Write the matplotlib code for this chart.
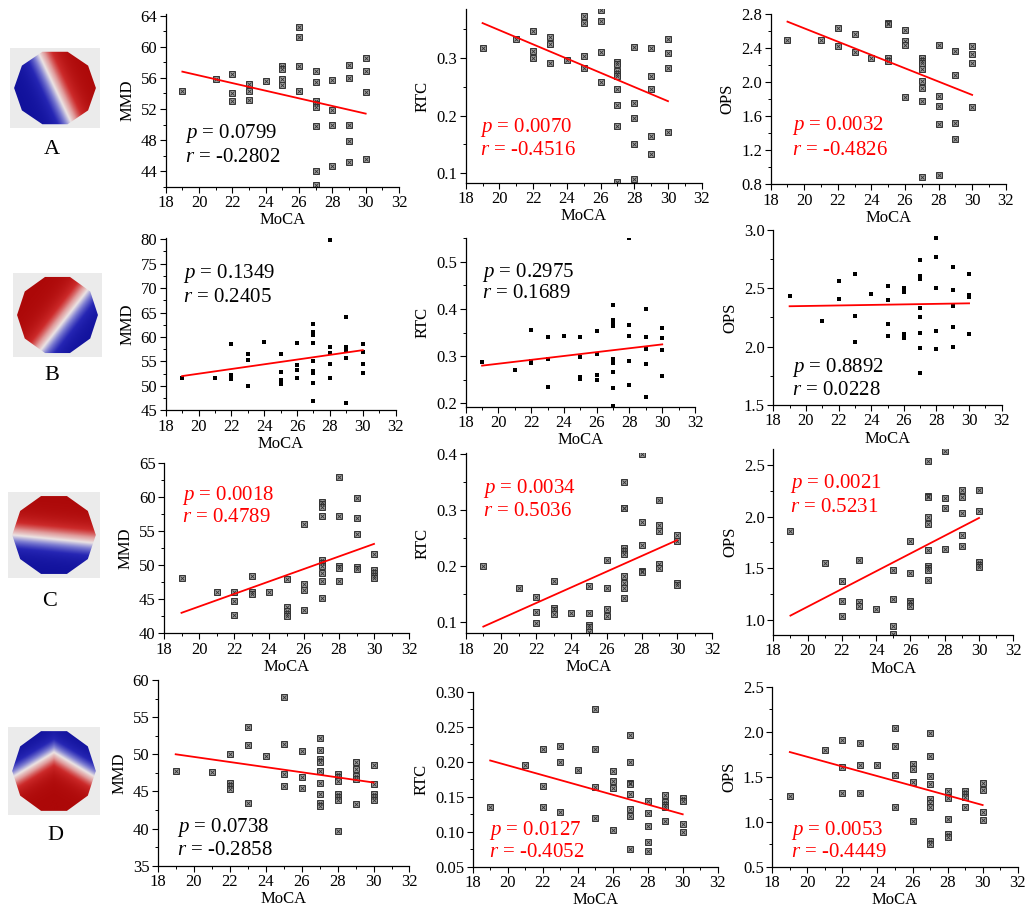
import matplotlib.pyplot as plt
import numpy as np
from matplotlib.colors import LinearSegmentedColormap
from matplotlib.patches import Polygon
from matplotlib.ticker import MultipleLocator, FormatStrFormatter

plt.rcParams['font.family'] = ['Liberation Serif', 'DejaVu Serif']
plt.rcParams['mathtext.fontset'] = 'custom'
plt.rcParams['mathtext.it'] = 'Liberation Serif:italic'
plt.rcParams['mathtext.rm'] = 'Liberation Serif'

W, H = 1027, 909

A_MMD = {19: [54.3], 21: [55.9], 22: [56.5, 54.0, 53.0], 23: [55.2, 54.3, 53.2], 24: [55.6],
         25: [57.5, 57.2, 55.8, 55.1], 26: [62.5, 61.2, 57.5, 54.3],
         27: [56.9, 55.5, 53.0, 52.6, 52.3, 49.8, 44.0, 42.2], 28: [55.7, 51.9, 49.9, 44.6],
         29: [57.6, 56.0, 50.0, 47.9, 45.2], 30: [58.6, 56.9, 54.2, 45.5]}
A_RTC = {19: [0.317], 21: [0.333], 22: [0.347, 0.312, 0.301], 23: [0.336, 0.325, 0.291], 24: [0.297],
         25: [0.374, 0.361, 0.304, 0.283], 26: [0.384, 0.364, 0.311, 0.259],
         27: [0.293, 0.289, 0.278, 0.272, 0.268, 0.247, 0.219, 0.182, 0.085],
         28: [0.319, 0.221, 0.195, 0.150, 0.089], 29: [0.317, 0.268, 0.246, 0.164, 0.133],
         30: [0.333, 0.309, 0.283, 0.172]}
A_OPS = {19: [2.49], 21: [2.50], 22: [2.64, 2.43], 23: [2.57, 2.35], 24: [2.28],
         25: [2.70, 2.68, 2.28, 2.25], 26: [2.61, 2.48, 2.44, 1.82],
         27: [2.28, 2.25, 2.22, 2.15, 2.01, 1.93, 1.78, 0.89], 28: [2.44, 1.84, 1.72, 1.51, 0.91],
         29: [2.36, 2.08, 1.52, 1.33], 30: [2.42, 2.33, 2.22, 1.71]}

B_MMD = {19: [51.6], 21: [51.6], 22: [58.6, 52.2, 51.4], 23: [56.5, 55.3, 49.9], 24: [58.9],
         25: [56.5, 52.8, 51.1, 50.4], 26: [58.8, 54.3, 53.2, 51.7],
         27: [62.7, 61.0, 60.5, 58.7, 55.1, 53.0, 52.6, 50.6, 47.0],
         28: [79.8, 57.9, 56.8, 54.4, 51.7], 29: [64.0, 58.0, 57.2, 55.6, 46.5],
         30: [58.6, 57.0, 54.5, 52.6]}
B_RTC = {19: [0.288], 21: [0.270], 22: [0.355, 0.290, 0.285], 23: [0.341, 0.294, 0.234], 24: [0.342],
         25: [0.340, 0.299, 0.256, 0.251], 26: [0.354, 0.304, 0.260, 0.250],
         27: [0.408, 0.376, 0.371, 0.365, 0.295, 0.290, 0.285, 0.267, 0.233, 0.195],
         28: [0.550, 0.366, 0.342, 0.289, 0.238], 29: [0.400, 0.341, 0.316, 0.284, 0.213],
         30: [0.359, 0.338, 0.313, 0.259]}
B_OPS = {19: [2.43], 21: [2.22], 22: [2.56, 2.41], 23: [2.62, 2.26, 2.04], 24: [2.45],
         25: [2.52, 2.40, 2.19, 2.09], 26: [2.50, 2.47, 2.11, 2.07],
         27: [2.74, 2.60, 2.58, 2.33, 2.25, 2.12, 1.99, 1.77], 28: [2.93, 2.77, 2.50, 2.13, 1.98],
         29: [2.68, 2.48, 2.35, 2.17, 2.00], 30: [2.62, 2.44, 2.42, 2.11]}

C_MMD = {19: [48.1], 21: [46.05], 22: [46.1, 44.7, 42.7], 23: [48.35, 46.1, 45.7], 24: [46.05],
         25: [48.0, 43.8, 43.2, 42.9, 42.5], 26: [56.0, 47.2, 46.3, 43.4],
         27: [59.2, 58.9, 58.5, 57.2, 50.8, 50.3, 49.9, 48.9, 47.6, 45.2],
         28: [62.85, 57.2, 49.8, 49.6, 47.7], 29: [59.9, 56.9, 54.55, 49.7, 49.4],
         30: [51.6, 49.3, 48.8, 48.4, 48.1]}
C_RTC = {19: [0.200], 21: [0.160], 22: [0.144, 0.118, 0.098], 23: [0.172, 0.124, 0.120, 0.114],
         24: [0.115], 25: [0.163, 0.115, 0.093, 0.090, 0.082], 26: [0.210, 0.160, 0.123, 0.110],
         27: [0.350, 0.304, 0.303, 0.232, 0.227, 0.222, 0.181, 0.170, 0.160, 0.143],
         28: [0.400, 0.278, 0.237, 0.191, 0.189], 29: [0.318, 0.274, 0.262, 0.203, 0.196],
         30: [0.255, 0.245, 0.170, 0.165]}
C_OPS = {19: [1.858], 21: [1.549], 22: [1.376, 1.189, 1.045], 23: [1.578, 1.173, 1.138], 24: [1.112],
         25: [1.488, 1.202, 0.949, 0.868], 26: [1.768, 1.459, 1.186, 1.164, 1.141],
         27: [2.532, 2.201, 2.188, 1.996, 1.931, 1.678, 1.523, 1.504, 1.485, 1.392],
         28: [2.635, 2.182, 2.079, 1.687], 29: [2.259, 2.185, 2.037, 1.819, 1.719],
         30: [2.253, 2.050, 1.562, 1.533, 1.511]}

D_MMD = {19: [47.8], 21: [47.6], 22: [50.1, 46.2, 45.7, 45.3], 23: [53.7, 51.2, 43.5], 24: [49.8],
         25: [57.7, 51.4, 47.3, 45.7], 26: [50.4, 47.0, 45.4],
         27: [52.2, 50.6, 49.4, 49.0, 47.7, 46.1, 44.7, 43.4, 43.0],
         28: [47.4, 47.0, 46.4, 44.6, 44.3, 43.9, 39.7], 29: [49.0, 48.0, 47.1, 46.7, 43.3],
         30: [48.5, 46.0, 44.7, 44.2, 43.8]}
D_RTC = {19: [0.136], 21: [0.196], 22: [0.219, 0.166, 0.135], 23: [0.223, 0.200, 0.128], 24: [0.188],
         25: [0.276, 0.219, 0.164, 0.119], 26: [0.187, 0.173, 0.163, 0.102],
         27: [0.239, 0.200, 0.170, 0.168, 0.154, 0.132, 0.123, 0.076],
         28: [0.144, 0.127, 0.108, 0.085, 0.072], 29: [0.153, 0.143, 0.139, 0.136, 0.116],
         30: [0.149, 0.144, 0.111, 0.099]}
D_OPS = {19: [1.289], 21: [1.796], 22: [1.907, 1.611, 1.322], 23: [1.878, 1.633, 1.322], 24: [1.633],
         25: [2.044, 1.837, 1.522, 1.167], 26: [1.641, 1.589, 1.437, 1.011],
         27: [1.985, 1.730, 1.504, 1.419, 1.252, 1.211, 1.167, 0.789, 0.756],
         28: [1.344, 1.259, 1.026, 0.859, 0.826], 29: [1.337, 1.304, 1.278, 1.159],
         30: [1.426, 1.348, 1.111, 1.019]}

# regression line values at MoCA = 19 and 30
FIT_X = [19, 30]
FITS = {'A': [(56.8, 51.4), (0.361, 0.225), (2.71, 1.85)],
        'B': [(52.0, 57.3), (0.280, 0.325), (2.345, 2.37)],
        'C': [(43.0, 53.1), (0.091, 0.246), (1.045, 1.986)],
        'D': [(50.0, 46.2), (0.202, 0.125), (1.774, 1.185)]}
P_VALUES = {'A': ['0.0799', '0.0070', '0.0032'], 'B': ['0.1349', '0.2975', '0.8892'],
            'C': ['0.0018', '0.0034', '0.0021'], 'D': ['0.0738', '0.0127', '0.0053']}
R_VALUES = {'A': ['-0.2802', '-0.4516', '-0.4826'], 'B': ['0.2405', '0.1689', '0.0228'],
            'C': ['0.4789', '0.5036', '0.5231'], 'D': ['-0.2858', '-0.4052', '-0.4449']}
ROWS = ['A', 'B', 'C', 'D']
MEASURES = ['MMD', 'RTC', 'OPS']
DATA = {'A': [A_MMD, A_RTC, A_OPS], 'B': [B_MMD, B_RTC, B_OPS],
        'C': [C_MMD, C_RTC, C_OPS], 'D': [D_MMD, D_RTC, D_OPS]}

# ---- layout (pixel boxes: left, right, bottom, top) ----
BOXES = {'A': [(165.7, 399, 186.7, 14.1), (465.7, 701.7, 182.7, 9.3), (770.7, 1005.7, 184.3, 14)],
         'B': [(165.7, 395.6, 410.3, 237.7), (465.7, 695, 406.7, 237.7), (773.3, 1001.7, 405, 229.7)],
         'C': [(164, 409, 633.3, 462.7), (465.7, 712.3, 633.3, 453.2), (773.3, 1013.3, 635, 449.3)],
         'D': [(157.7, 409.5, 865.7, 680), (472.7, 717.7, 866.7, 692), (772.3, 1017.7, 866.7, 686.7)]}
YLIMS = {'A': [(42, 64.2), (0.083, 0.385), (0.8, 2.8)],
         'B': [(45, 80.3), (0.193, 0.551), (1.5, 3.0)],
         'C': [(40, 65), (0.079, 0.402), (0.858, 2.648)],
         'D': [(35, 60), (0.05, 0.30), (0.5, 2.5)]}
YTICKS = {'A': [(4, 2, '%d'), (0.1, 0.05, '%.1f'), (0.4, 0.2, '%.1f')],
          'B': [(5, 2.5, '%d'), (0.1, 0.05, '%.1f'), (0.5, 0.25, '%.1f')],
          'C': [(5, 2.5, '%d'), (0.1, 0.05, '%.1f'), (0.5, 0.25, '%.1f')],
          'D': [(5, 2.5, '%d'), (0.05, 0.025, '%.2f'), (0.5, 0.25, '%.1f')]}
# text positions: (left x, baseline of p line, baseline of r line)
TEXT_POS = {'A': [(185, 138, 162), (480, 132, 155), (792, 130, 155)],
            'B': [(183, 278, 302), (482, 277, 298), (792, 372, 395)],
            'C': [(182, 500, 522), (483, 493, 516), (790, 488, 512)],
            'D': [(177, 832, 855), (489, 835, 857), (791, 835, 857)]}
RED_TEXT = {'A': [False, True, True], 'B': [False, False, False],
            'C': [True, True, True], 'D': [False, True, True]}
TOPO_BOX = {'A': (10, 100, 128, 48), 'B': (13, 102, 357, 273),
            'C': (8, 100, 578, 492), 'D': (8, 100, 815, 727)}
LABEL_POS = {'A': (52, 150), 'B': (52, 375), 'C': (50, 602), 'D': (55, 836)}

fig = plt.figure(figsize=(W / 100, H / 100), dpi=100)


def px_axes(box):
    l, r, b, t = box
    return fig.add_axes([l / W, 1 - b / H, (r - l) / W, (b - t) / H])


# ---- topographic maps ----
topo_cmap = LinearSegmentedColormap.from_list(
    'topo', ['#10109a', '#2626b4', '#7f7fd2', '#ece4e4', '#e09a9a', '#cc2a2a', '#ac0808'])
gx, gy = np.meshgrid(np.linspace(-1.1, 1.1, 240), np.linspace(-1.1, 1.1, 240))
fields = {'A': 0.915 * gx + 0.40 * gy,
          'B': -(0.79 * gx - 0.61 * gy - 0.21),
          'C': gy + 0.1 + 0.1 * gx,
          'D': -(gy - 0.45 + 0.6 * np.abs(gx))}
ang = np.deg2rad(np.arange(0, 360, 36))
decagon = np.column_stack([np.cos(ang), np.sin(ang)])

for row in ROWS:
    l, r, b, t = TOPO_BOX[row]
    tax = px_axes((l, r, b, t))
    tax.set_facecolor('#ebebeb')
    for s in tax.spines.values():
        s.set_visible(False)
    tax.set_xticks([])
    tax.set_yticks([])
    tax.set_xlim(-1.1, 1.1)
    tax.set_ylim(-1.05, 1.05)
    val = 0.5 + 0.5 * np.tanh(fields[row] / 0.4)
    im = tax.imshow(val, cmap=topo_cmap, vmin=0, vmax=1, origin='lower',
                    extent=[-1.1, 1.1, -1.1, 1.1], aspect='auto', interpolation='bilinear')
    poly = Polygon(decagon, closed=True, facecolor='none', edgecolor='none')
    tax.add_patch(poly)
    im.set_clip_path(poly)
    lx, ly = LABEL_POS[row]
    fig.text(lx / W, 1 - ly / H, row, fontsize=16, ha='center', va='center')

# ---- scatter panels ----
for row in ROWS:
    for j, meas in enumerate(MEASURES):
        ax = px_axes(BOXES[row][j])
        pts = DATA[row][j]
        xs = np.array([m for m, vals in pts.items() for _ in vals], dtype=float)
        ys = np.array([v for vals in pts.values() for v in vals])
        if row == 'B':
            ax.plot(xs, ys, 's', ms=3.2, color='black', mew=0)
        else:
            ax.plot(xs, ys, 's', ms=3.8, mfc='#a0a0a0', mec='#333333', mew=0.7)
            ax.plot(xs, ys, 'x', ms=2.4, color='#333333', mew=0.6)
        ax.plot(FIT_X, FITS[row][j], color='red', lw=1.3)

        ax.set_xlim(18, 32)
        ax.set_ylim(*YLIMS[row][j])
        ax.xaxis.set_major_locator(MultipleLocator(2))
        ax.xaxis.set_minor_locator(MultipleLocator(1))
        major, minor, fmt = YTICKS[row][j]
        ax.yaxis.set_major_locator(MultipleLocator(major))
        ax.yaxis.set_minor_locator(MultipleLocator(minor))
        ax.yaxis.set_major_formatter(FormatStrFormatter(fmt))
        for side in ['top', 'right']:
            ax.spines[side].set_visible(False)
        for side in ['left', 'bottom']:
            ax.spines[side].set_linewidth(0.9)
        ax.tick_params(which='major', direction='out', length=4, width=0.8, labelsize=12, pad=2)
        ax.tick_params(which='minor', direction='out', length=2, width=0.7)
        ax.set_facecolor('none')
        ax.set_xlabel('MoCA', fontsize=12, labelpad=1)
        ax.set_ylabel(meas, fontsize=12, labelpad=4)

        tx, yp, yr = TEXT_POS[row][j]
        col = 'red' if RED_TEXT[row][j] else 'black'
        fig.text(tx / W, 1 - yp / H, '$p$ = ' + P_VALUES[row][j], fontsize=15,
                 color=col, va='baseline', ha='left')
        fig.text(tx / W, 1 - yr / H, '$r$ = ' + R_VALUES[row][j], fontsize=15,
                 color=col, va='baseline', ha='left')

fig.savefig('out.png', dpi=100, facecolor='white')
